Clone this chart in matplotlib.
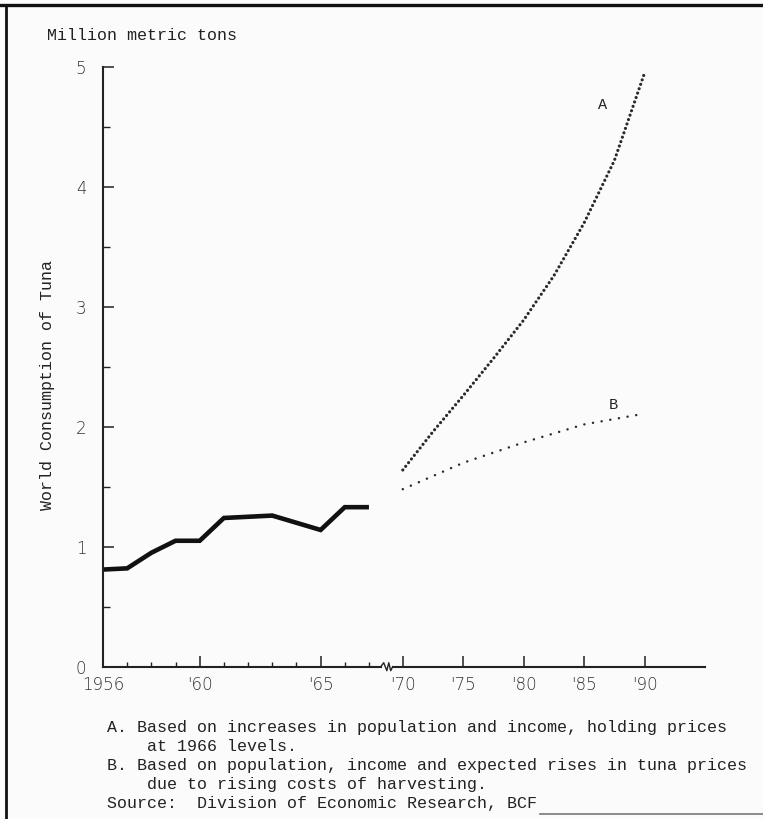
import numpy as np
import matplotlib.pyplot as plt
from matplotlib.lines import Line2D

# world tuna consumption, million metric tons
hist_years = [1956, 1957, 1958, 1959, 1960, 1961, 1962, 1963, 1964, 1965, 1966, 1967]
hist_cons = [0.81, 0.82, 0.95, 1.05, 1.05, 1.24, 1.25, 1.26, 1.20, 1.14, 1.33, 1.33]

# projection A: population + income, prices held at 1966 levels
proj_a_years = [1970, 1972.5, 1975, 1977.5, 1980, 1982.5, 1985, 1987.5, 1990]
proj_a = [1.64, 1.96, 2.26, 2.57, 2.89, 3.26, 3.70, 4.22, 4.95]

# projection B: with expected price rises
proj_b_years = [1970, 1975, 1980, 1985, 1990]
proj_b = [1.48, 1.70, 1.87, 2.02, 2.11]

major_years = [1956, 1960, 1965, 1970, 1975, 1980, 1985, 1990]
major_labels = ["1956", "'60", "'65", "'70", "'75", "'80", "'85", "'90"]
minor_years = [1957, 1958, 1959, 1961, 1962, 1963, 1964, 1966, 1967]
y_major = [0, 1, 2, 3, 4, 5]
y_minor = [0.5, 1.5, 2.5, 3.5, 4.5]

notes = ("A. Based on increases in population and income, holding prices\n"
         "    at 1966 levels.\n"
         "B. Based on population, income and expected rises in tuna prices\n"
         "    due to rising costs of harvesting.\n"
         "Source:  Division of Economic Research, BCF")

# broken time axis: 1970 onward is drawn at half the scale of the 1956-67 part
YR = [1956, 1968, 1970, 2000]
POS = [0, 12, 12.4, 27.4]

def fwd(x):
    return np.interp(x, YR, POS)

def inv(p):
    return np.interp(p, POS, YR)

ink = '#222222'
mono = 'Liberation Mono'
num_font = 'DejaVu Sans'

fig = plt.figure(figsize=(7.63, 8.19), dpi=100)
fig.patch.set_facecolor('#fbfbfb')
W, H = 763, 819
ax = fig.add_axes([103 / W, 1 - 666.7 / H, (705 - 103) / W, (666.7 - 67) / H])
ax.set_facecolor('none')

ax.set_xscale('function', functions=(fwd, inv))
ax.set_xlim(1956, 1995)
ax.set_ylim(0, 5)

ax.plot(hist_years, hist_cons, color='#111111', lw=3.3, solid_joinstyle='miter',
        solid_capstyle='butt')
ax.plot(proj_a_years, proj_a, color='#2a2a2a', lw=2.3, linestyle=(0, (0.01, 1.45)),
        dash_capstyle='round')
ax.plot(proj_b_years, proj_b, color='#2a2a2a', lw=1.8, linestyle=(0, (0.01, 3.5)),
        dash_capstyle='round')

ax.text(1986.5, 4.68, 'A', fontfamily=mono, fontsize=11, color=ink,
        ha='center', va='center')
ax.text(1987.4, 2.18, 'B', fontfamily=mono, fontsize=11, color=ink,
        ha='center', va='center')

# spines and ticks
for s in ['top', 'right', 'bottom']:
    ax.spines[s].set_visible(False)
ax.spines['left'].set_linewidth(1.5)
ax.spines['left'].set_color(ink)

trans = ax.get_xaxis_transform()
d = 4 / 599.7
ax.plot([1956, 1967.49], [0, 0], color=ink, lw=1.5, transform=trans, clip_on=False)
ax.plot([1967.49, 1967.61, 1967.74, 1967.82, 1967.90, 1967.98],
        [0, d, -d, d, -d, 0], color=ink, lw=1.0, transform=trans, clip_on=False)
ax.plot([1967.98, 1995], [0, 0], color=ink, lw=1.5, transform=trans, clip_on=False)

ax.set_xticks(major_years)
ax.set_xticklabels(major_labels)
ax.set_xticks(minor_years, minor=True)
ax.set_yticks(y_major)
ax.set_yticks(y_minor, minor=True)

ax.tick_params(axis='x', which='major', direction='in', length=8, width=1.1,
               color=ink, pad=7, labelsize=12, labelcolor='#333333')
ax.tick_params(axis='x', which='minor', direction='in', length=3.6, width=1.0,
               color=ink)
ax.tick_params(axis='y', which='major', direction='in', length=8, width=1.1,
               color=ink, pad=12, labelsize=12, labelcolor='#333333')
ax.tick_params(axis='y', which='minor', direction='in', length=5, width=1.0,
               color=ink)
for lab in ax.get_xticklabels() + ax.get_yticklabels():
    lab.set_fontfamily(num_font)
    lab.set_fontweight('light')
ax.get_xticklabels()[0].set_x(1955.7)

# texts around the plot
fig.text(46.7 / W, 1 - 36 / H, 'Million metric tons', fontfamily=mono, fontsize=12,
         color=ink, ha='left', va='center')
fig.text(48 / W, 1 - 385 / H, 'World Consumption of Tuna', fontfamily=mono,
         fontsize=12, color=ink, rotation=90, ha='center', va='center')
fig.text(106.7 / W, 1 - 765.5 / H, notes, fontfamily=mono, fontsize=12, color=ink,
         ha='left', va='center', linespacing=1.32)

# page frame from the scanned document
fig.add_artist(Line2D([6 / W, 6 / W], [0, 1 - 5 / H], transform=fig.transFigure,
                      color='#111111', lw=2))
fig.add_artist(Line2D([0, 1], [1 - 5 / H, 1 - 5 / H], transform=fig.transFigure,
                      color='#111111', lw=2.4))
fig.add_artist(Line2D([540 / W, 1], [1 - 814 / H, 1 - 814 / H], transform=fig.transFigure,
                      color='#777777', lw=1.2))

fig.savefig('out.png', dpi=100, facecolor=fig.get_facecolor())
